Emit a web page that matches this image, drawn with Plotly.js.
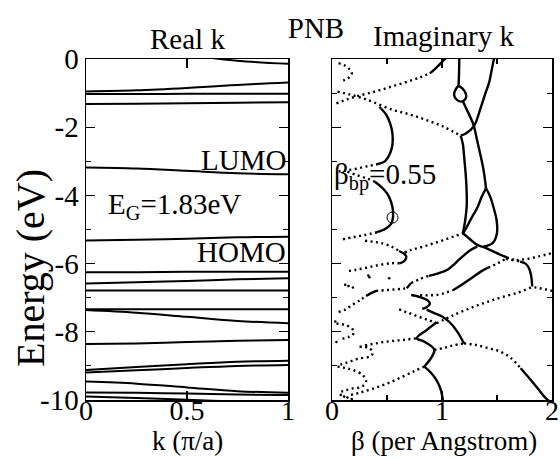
<!DOCTYPE html>
<html><head><meta charset="utf-8">
<script src="https://cdn.plot.ly/plotly-3.0.1.min.js"></script>
<style>html,body{margin:0;padding:0;background:#fff}#chart{width:560px;height:459px}</style>
</head><body><div id="chart"></div>
<script>
// ---------- Left panel: real-k bands (k in pi/a, E in eV) ----------
const kPts = [0, 0.25, 0.5, 0.75, 1];
const band01 = [0.50, 0.30, 0.12, -0.05, -0.14];
const band02 = [-0.95, -0.92, -0.85, -0.76, -0.69];
const band03 = [-1.03, -1.03, -1.02, -1.02, -1.02];
const band04 = [-1.32, -1.31, -1.30, -1.28, -1.27];
const band05 = [-3.18, -3.21, -3.28, -3.35, -3.38]; // LUMO
const band06 = [-5.32, -5.30, -5.27, -5.23, -5.21]; // HOMO
const band07 = [-6.25, -6.25, -6.24, -6.24, -6.24];
const band08 = [-6.58, -6.55, -6.51, -6.46, -6.43];
const band09 = [-6.79, -6.79, -6.79, -6.79, -6.79];
const band10 = [-7.34, -7.34, -7.34, -7.34, -7.34];
const band11 = [-7.36, -7.44, -7.56, -7.68, -7.75];
const band12 = [-8.36, -8.34, -8.30, -8.26, -8.24];
const band13 = [-9.12, -9.03, -8.95, -8.88, -8.85];
const band14 = [-9.19, -9.13, -9.06, -9.00, -8.97];
const band15 = [-9.46, -9.52, -9.63, -9.74, -9.79];
const band16 = [-9.78, -9.79, -9.81, -9.84, -9.85];
const band17 = [-9.90, -9.94, -9.99, -10.05, -10.10];

const kTicks = [0, 0.5, 1];
const kTickText = ['0', '0.5', '1'];
const eTicks = [0, -2, -4, -6, -8, -10];
const eTickText = ['0', '-2', '-4', '-6', '-8', '-10'];
const eMinor = [-1, -3, -5, -7, -9];
const bTicks = [0, 1, 2];
const bTickText = ['0', '1', '2'];
const bMinor = [0.5, 1.5];

// ---------- Right panel: complex bands (beta per Angstrom, E in eV) ----------
const dB1_b = [0.06,0.12,0.16,0.18,0.16,0.12,0.08];
const dB1_e = [-0.12,-0.20,-0.30,-0.42,-0.53,-0.61,-0.66];
const dA_b = [0.04,0.14,0.24,0.35,0.45,0.57,0.69,0.80,0.89];
const dA_e = [-1.30,-1.18,-1.08,-0.99,-0.90,-0.78,-0.66,-0.54,-0.42];
const sA_b = [0.89,0.94,0.99,1.04];
const sA_e = [-0.42,-0.28,-0.12,0.05];
const dC_b = [0.05,0.16,0.27,0.38,0.55,0.70,0.85,1.01,1.17];
const dC_e = [-0.96,-1.04,-1.14,-1.27,-1.49,-1.62,-1.78,-1.98,-2.25];
const sD_b = [0.43,0.49,0.53,0.55,0.55,0.53,0.48,0.42];
const sD_e = [-1.40,-1.62,-1.90,-2.20,-2.50,-2.75,-3.00,-3.08];
const dD_b = [0.42,0.33,0.23,0.13,0.03];
const dD_e = [-3.08,-3.14,-3.21,-3.27,-3.31];
const dE1_b = [0.14,0.23,0.32,0.39];
const dE1_e = [-3.30,-3.41,-3.51,-3.60];
const sE_b = [0.39,0.47,0.52,0.55,0.555,0.54,0.49,0.41];
const sE_e = [-3.60,-3.82,-4.05,-4.35,-4.62,-4.82,-4.97,-5.08];
const dE2_b = [0.41,0.30,0.20,0.08];
const dE2_e = [-5.08,-5.16,-5.22,-5.30];

const sL1_b = [1.157,1.155,1.15];
const sL1_e = [0.05,-0.40,-0.80];
const sLoop_b = [1.15,1.12,1.11,1.13,1.17,1.21,1.22,1.20,1.15];
const sLoop_e = [-0.80,-0.92,-1.05,-1.18,-1.25,-1.19,-1.07,-0.92,-0.80];
const sL1b_b = [1.19,1.22,1.26,1.29,1.32,1.35,1.38,1.40];
const sL1b_e = [-1.24,-1.45,-1.72,-1.97,-2.40,-2.82,-3.30,-3.79];
const sL2_b = [1.475,1.45,1.43,1.39,1.35,1.29,1.22,1.17];
const sL2_e = [0.05,-0.35,-0.67,-1.05,-1.45,-1.97,-2.18,-2.25];
const sL3_b = [1.17,1.19,1.20,1.22,1.225,1.21,1.19];
const sL3_e = [-2.25,-2.50,-2.82,-3.60,-4.28,-4.75,-5.11];
const sLensL_b = [1.40,1.36,1.32,1.27,1.22,1.19];
const sLensL_e = [-3.79,-4.05,-4.37,-4.65,-4.96,-5.11];
const sLensR_b = [1.40,1.44,1.47,1.495,1.50,1.46,1.38];
const sLensR_e = [-3.79,-4.05,-4.37,-4.70,-5.10,-5.40,-5.50];
const sF_b = [1.19,1.26,1.32,1.38,1.45,1.53,1.59];
const sF_e = [-5.11,-5.30,-5.45,-5.52,-5.62,-5.74,-5.82];
const dF_b = [1.59,1.65,1.71];
const dF_e = [-5.82,-5.88,-5.94];
const sF2_b = [1.71,1.76,1.79,1.81,1.82];
const sF2_e = [-5.94,-6.00,-6.13,-6.35,-6.67];
const dR_b = [1.58,1.66,1.76,1.88,2.0];
const dR_e = [-5.86,-5.90,-5.87,-5.79,-5.69];

const dG1_b = [0.30,0.38,0.45,0.54,0.61];
const dG1_e = [-5.33,-5.36,-5.40,-5.50,-5.63];
const sG_b = [0.61,0.65,0.675,0.665,0.64,0.615];
const sG_e = [-5.63,-5.70,-5.79,-5.90,-5.96,-5.99];
const dG2_b = [0.66,0.72,0.80,0.88,0.96,1.04,1.12,1.19];
const dG2_e = [-5.68,-5.60,-5.53,-5.45,-5.37,-5.28,-5.19,-5.11];
const dG3_b = [0.615,0.54,0.43,0.33,0.22,0.14];
const dG3_e = [-5.99,-5.99,-6.04,-6.11,-6.18,-6.22];

const dH_b = [0.72,0.80,0.88];
const dH_e = [-6.57,-6.45,-6.36];
const sH_b = [0.88,0.95,1.05,1.17,1.25,1.32];
const sH_e = [-6.36,-6.30,-6.18,-5.84,-5.62,-5.50];

const dJ1_b = [0.06,0.12,0.18,0.25,0.31];
const dJ1_e = [-7.42,-7.35,-7.22,-7.08,-6.95];
const sJ_b = [0.31,0.36,0.40];
const sJ_e = [-6.95,-6.86,-6.80];
const dJ2_b = [0.40,0.48,0.56,0.64,0.68];
const dJ2_e = [-6.80,-6.78,-6.76,-6.74,-6.72];
const sJ2_b = [0.68,0.70,0.72];
const sJ2_e = [-6.72,-6.64,-6.57];

const sK_b = [0.72,0.80,0.87,0.89,0.86,0.82];
const sK_e = [-6.92,-6.98,-7.08,-7.18,-7.28,-7.33];
const dK1_b = [0.80,0.88,0.95,1.03,1.10];
const dK1_e = [-6.93,-6.93,-6.92,-6.86,-6.78];
const sK2_b = [1.10,1.18,1.27,1.36,1.42];
const sK2_e = [-6.78,-6.62,-6.42,-6.22,-6.12];
const dK2_b = [1.42,1.50,1.58];
const dK2_e = [-6.12,-6.00,-5.86];

const sArc_b = [0.86,0.93,1.00,1.07,1.14,1.20];
const sArc_e = [-7.35,-7.45,-7.55,-7.72,-8.00,-8.34];
const dL_b = [0.61,0.70,0.78,0.87,0.95];
const dL_e = [-7.34,-7.45,-7.55,-7.65,-7.75];
const dM_b = [0.95,1.10,1.30,1.50,1.70,1.82,1.90,2.0];
const dM_e = [-7.75,-7.52,-7.25,-7.03,-6.84,-6.70,-6.73,-6.80];
const sZig_b = [0.95,0.86,0.77,0.84,0.93,0.84];
const sZig_e = [-7.72,-7.95,-8.19,-8.29,-8.53,-9.02];
const sZig2_b = [0.84,0.90,0.95,0.99,1.01];
const sZig2_e = [-9.02,-9.20,-9.42,-9.71,-10.05];
const dN_b = [0.30,0.40,0.49,0.58,0.67,0.77];
const dN_e = [-8.40,-8.34,-8.29,-8.26,-8.23,-8.19];
const dO_b = [0.93,1.02,1.10,1.20];
const dO_e = [-8.53,-8.47,-8.40,-8.34];
const dP_b = [1.20,1.30,1.42,1.53,1.63,1.715];
const dP_e = [-8.34,-8.38,-8.48,-8.58,-8.78,-9.07];
const sP_b = [1.715,1.79,1.86,1.93,1.98];
const sP_e = [-9.07,-9.35,-9.62,-9.90,-10.05];
const dQ_b = [0.84,0.75,0.62,0.50,0.38,0.26,0.16];
const dQ_e = [-9.02,-9.15,-9.35,-9.52,-9.66,-9.78,-9.86];

const dCurl1_b = [0.04,0.12,0.18,0.20,0.16,0.06];
const dCurl1_e = [-7.76,-7.80,-7.90,-8.03,-8.14,-8.22];
const dCurl2_b = [0.25,0.34,0.37,0.34,0.25,0.18,0.12,0.06];
const dCurl2_e = [-8.44,-8.48,-8.63,-8.73,-8.78,-8.85,-8.92,-8.98];
const dCurl3_b = [0.05,0.12,0.19,0.28,0.31,0.27,0.19,0.12,0.06];
const dCurl3_e = [-9.02,-9.06,-9.12,-9.27,-9.46,-9.61,-9.66,-9.72,-9.78];

const dots_b = [0.12,0.15,0.19,0.33,0.34,0.52,0.03,0.04,0.08,0.11,0.14,0.18];
const dots_e = [-6.62,-6.66,-6.70,-6.35,-6.40,-6.43,-7.70,-8.30,-9.85,-9.90,-9.93,-9.97];

const bpBeta = [0.55];
const bpE = [-4.65];

// ---------- build traces ----------
const FONT = '"Liberation Serif", "Times New Roman", serif';
const traces = [];
const bands = [band01,band02,band03,band04,band05,band06,band07,band08,band09,band10,band11,band12,band13,band14,band15,band16,band17];
bands.forEach(b => traces.push({x:kPts, y:b, xaxis:'x', yaxis:'y', mode:'lines',
  line:{color:'black', width:2, shape:'spline'}, hoverinfo:'skip'}));

const solids = [[sA_b,sA_e],[sD_b,sD_e],[sE_b,sE_e],[sL1_b,sL1_e],[sLoop_b,sLoop_e],[sL1b_b,sL1b_e],
  [sL2_b,sL2_e],[sL3_b,sL3_e],[sLensL_b,sLensL_e],[sLensR_b,sLensR_e],[sF_b,sF_e],[sF2_b,sF2_e],
  [sG_b,sG_e],[sH_b,sH_e],[sJ_b,sJ_e],[sJ2_b,sJ2_e],[sK_b,sK_e],[sK2_b,sK2_e],[sArc_b,sArc_e],
  [sZig_b,sZig_e],[sZig2_b,sZig2_e],[sP_b,sP_e]];
const dotted = [[dB1_b,dB1_e],[dA_b,dA_e],[dC_b,dC_e],[dD_b,dD_e],[dE1_b,dE1_e],[dE2_b,dE2_e],
  [dF_b,dF_e],[dR_b,dR_e],[dG1_b,dG1_e],[dG2_b,dG2_e],[dG3_b,dG3_e],[dH_b,dH_e],[dJ1_b,dJ1_e],
  [dJ2_b,dJ2_e],[dK1_b,dK1_e],[dK2_b,dK2_e],[dL_b,dL_e],[dM_b,dM_e],[dN_b,dN_e],[dO_b,dO_e],
  [dP_b,dP_e],[dQ_b,dQ_e],[dCurl1_b,dCurl1_e],[dCurl2_b,dCurl2_e],[dCurl3_b,dCurl3_e]];
solids.forEach(c => traces.push({x:c[0], y:c[1], xaxis:'x2', yaxis:'y2', mode:'lines',
  line:{color:'black', width:2.4, shape:'spline'}, hoverinfo:'skip'}));
dotted.forEach(c => traces.push({x:c[0], y:c[1], xaxis:'x2', yaxis:'y2', mode:'lines',
  line:{color:'black', width:2.4, dash:'2px,3.5px', shape:'spline'}, hoverinfo:'skip'}));
traces.push({x:dots_b, y:dots_e, xaxis:'x2', yaxis:'y2', mode:'markers',
  marker:{color:'black', size:2.6}, hoverinfo:'skip'});
traces.push({x:bpBeta, y:bpE, xaxis:'x2', yaxis:'y2', mode:'markers',
  marker:{symbol:'circle-open', color:'black', size:11, line:{width:1, color:'black'}}, hoverinfo:'skip'});

const axCommon = {ticks:'inside', ticklen:9, tickwidth:1.2, tickcolor:'black', showline:true,
  linewidth:1.5, linecolor:'black', mirror:'allticks', showgrid:false, zeroline:false,
  ticklabeloverflow:'allow', tickfont:{family:FONT, size:29, color:'black'}};
const xTickFont = {family:FONT, size:28, color:'black'};
const yDom = [1-400/459, 1-59/459];

const layout = {
  width:560, height:459, margin:{l:0, r:0, t:0, b:0},
  paper_bgcolor:'white', plot_bgcolor:'white', showlegend:false, hovermode:false,
  font:{family:FONT, color:'black', size:29},
  title:{text:'PNB', x:316/560, xanchor:'center', y:1-28/459, yanchor:'middle',
    font:{family:FONT, size:29, color:'black'}},
  xaxis:Object.assign({}, axCommon, {domain:[86/560, 288/560], range:[0,1], anchor:'y',
    tickmode:'array', tickvals:kTicks, ticktext:kTickText, ticklabelstandoff:-15, tickfont:xTickFont}),
  yaxis:Object.assign({}, axCommon, {domain:yDom, range:[-10,0], anchor:'x',
    tickmode:'array', tickvals:eTicks, ticktext:eTickText,
    minor:{tickvals:eMinor, ticks:'inside', ticklen:5, tickwidth:1.2, tickcolor:'black'}}),
  xaxis2:Object.assign({}, axCommon, {domain:[332/560, 552/560], range:[0,2], anchor:'y2',
    tickmode:'array', tickvals:bTicks, ticktext:bTickText, ticklabelstandoff:-15, tickfont:xTickFont,
    minor:{tickvals:bMinor, ticks:'inside', ticklen:5, tickwidth:1.2, tickcolor:'black'}}),
  yaxis2:Object.assign({}, axCommon, {domain:yDom, range:[-10,0], anchor:'x2',
    tickmode:'array', tickvals:eTicks, ticktext:eTickText, showticklabels:false,
    minor:{tickvals:eMinor, ticks:'inside', ticklen:5, tickwidth:1.2, tickcolor:'black'}}),
  annotations:[
    {text:'Energy (eV)', xref:'paper', yref:'paper', x:30/560, y:1-268/459, textangle:-90, xanchor:'center', yanchor:'middle', showarrow:false, font:{family:FONT, size:40}},
    {text:'k (π/a)', xref:'paper', yref:'paper', x:188/560, y:1-441/459, xanchor:'center', yanchor:'middle', showarrow:false, borderpad:0, font:{family:FONT, size:27}},
    {text:'β (per Angstrom)', xref:'paper', yref:'paper', x:444/560, y:1-441/459, xanchor:'center', yanchor:'middle', showarrow:false, borderpad:0, font:{family:FONT, size:27}},
    {text:'Real k', xref:'paper', yref:'paper', x:187/560, y:1-39/459, xanchor:'center', yanchor:'middle', showarrow:false, font:{family:FONT, size:29}},
    {text:'Imaginary k', xref:'paper', yref:'paper', x:443/560, y:1-36/459, xanchor:'center', yanchor:'middle', showarrow:false, font:{family:FONT, size:29}},
    {text:'LUMO', xref:'x', yref:'y', x:1.0, y:-2.95, xanchor:'right', yanchor:'middle', showarrow:false, font:{family:FONT, size:29}},
    {text:'E<sub>G</sub>=1.83eV', xref:'x', yref:'y', x:0.1, y:-4.3, xanchor:'left', yanchor:'middle', showarrow:false, font:{family:FONT, size:29}},
    {text:'HOMO', xref:'x', yref:'y', x:1.0, y:-5.65, xanchor:'right', yanchor:'middle', showarrow:false, font:{family:FONT, size:29}},
    {text:'β<sub>bp</sub>=0.55', xref:'x2', yref:'y2', x:0.0, y:-3.45, xanchor:'left', yanchor:'middle', showarrow:false, font:{family:FONT, size:29}}
  ]
};

Plotly.newPlot('chart', traces, layout, {staticPlot:true, displayModeBar:false});
</script></body></html>
